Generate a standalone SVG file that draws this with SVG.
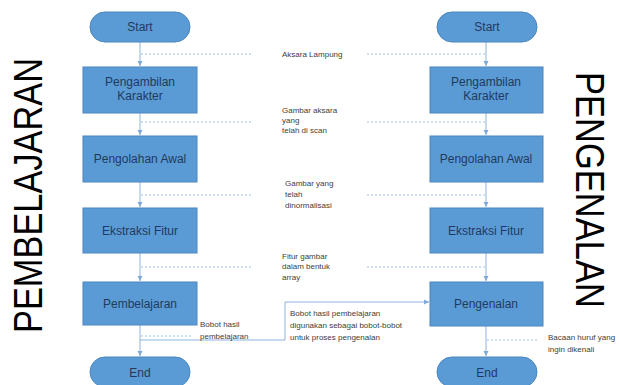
<svg xmlns="http://www.w3.org/2000/svg" width="619" height="385" viewBox="0 0 619 385">
<defs>
<marker id="ah" markerWidth="6" markerHeight="6" refX="5" refY="3" orient="auto" markerUnits="userSpaceOnUse">
<path d="M0,0.5 L5,3 L0,5.5 z" fill="#7fa9d6"/>
</marker>
<style>
.term{fill:#5b9bd5;stroke:#4a86bf;stroke-width:1}
.box{fill:#5b9bd5;stroke:#4a86bf;stroke-width:1}
.nt{font-family:"Liberation Sans",Arial,sans-serif;font-size:12px;fill:#1f3a60;text-anchor:middle}
.lb{font-family:"Liberation Sans",Arial,sans-serif;font-size:8px;fill:#404040}
.ln{stroke:#8db4de;stroke-width:1;fill:none}
.ds{stroke:#9cc0e4;stroke-width:1;stroke-dasharray:2,2;fill:none}
.big{font-family:"Liberation Sans",Arial,sans-serif;font-size:40px;fill:#000}
</style>
</defs>
<rect width="619" height="385" fill="#fff"/>

<text class="big" transform="translate(42,333) rotate(-90)" textLength="275" lengthAdjust="spacingAndGlyphs">PEMBELAJARAN</text>
<text class="big" transform="translate(576,72) rotate(90)" textLength="236" lengthAdjust="spacingAndGlyphs">PENGENALAN</text>

<g id="connectors">
<line class="ln" x1="140" y1="42" x2="140" y2="66" marker-end="url(#ah)"/>
<line class="ln" x1="140" y1="113" x2="140" y2="135" marker-end="url(#ah)"/>
<line class="ln" x1="140" y1="182" x2="140" y2="207" marker-end="url(#ah)"/>
<line class="ln" x1="140" y1="253" x2="140" y2="281" marker-end="url(#ah)"/>
<line class="ln" x1="140" y1="325" x2="140" y2="356" marker-end="url(#ah)"/>
<line class="ln" x1="486" y1="42" x2="486" y2="66" marker-end="url(#ah)"/>
<line class="ln" x1="486" y1="113" x2="486" y2="135" marker-end="url(#ah)"/>
<line class="ln" x1="486" y1="182" x2="486" y2="207" marker-end="url(#ah)"/>
<line class="ln" x1="486" y1="253" x2="486" y2="281" marker-end="url(#ah)"/>
<line class="ln" x1="486" y1="326" x2="486" y2="356" marker-end="url(#ah)"/>
<polyline class="ln" points="140,340 285,340 285,302 429,302" marker-end="url(#ah)"/>
<line class="ds" x1="141" y1="54" x2="253" y2="54"/>
<line class="ds" x1="141" y1="122" x2="253" y2="122"/>
<line class="ds" x1="141" y1="195" x2="253" y2="195"/>
<line class="ds" x1="141" y1="267" x2="253" y2="267"/>
<line class="ds" x1="141" y1="336" x2="193" y2="336"/>
<line class="ds" x1="367" y1="54" x2="485" y2="54"/>
<line class="ds" x1="367" y1="122" x2="485" y2="122"/>
<line class="ds" x1="367" y1="195" x2="485" y2="195"/>
<line class="ds" x1="367" y1="267" x2="485" y2="267"/>
<line class="ds" x1="487" y1="340" x2="538" y2="340"/>
</g>

<g id="start-l"><rect class="term" x="90" y="12" width="100" height="30" rx="15"/><text class="nt" x="140" y="31">Start</text></g>
<g id="ambil-l"><rect class="box" x="83" y="67" width="114" height="46"/><text class="nt" x="140" y="86">Pengambilan</text><text class="nt" x="140" y="100">Karakter</text></g>
<g id="olah-l"><rect class="box" x="83" y="136" width="114" height="46"/><text class="nt" x="140" y="163">Pengolahan Awal</text></g>
<g id="fitur-l"><rect class="box" x="83" y="208" width="114" height="45"/><text class="nt" x="140" y="235">Ekstraksi Fitur</text></g>
<g id="belajar"><rect class="box" x="83" y="282" width="114" height="43"/><text class="nt" x="140" y="308">Pembelajaran</text></g>
<g id="end-l"><rect class="term" x="90" y="357" width="100" height="30" rx="15"/><text class="nt" x="140" y="377">End</text></g>

<g id="start-r"><rect class="term" x="437" y="12" width="100" height="30" rx="15"/><text class="nt" x="487" y="31">Start</text></g>
<g id="ambil-r"><rect class="box" x="430" y="67" width="113" height="46"/><text class="nt" x="486" y="86">Pengambilan</text><text class="nt" x="486" y="100">Karakter</text></g>
<g id="olah-r"><rect class="box" x="430" y="136" width="113" height="46"/><text class="nt" x="486" y="163">Pengolahan Awal</text></g>
<g id="fitur-r"><rect class="box" x="430" y="208" width="113" height="45"/><text class="nt" x="486" y="235">Ekstraksi Fitur</text></g>
<g id="kenal"><rect class="box" x="430" y="282" width="113" height="44"/><text class="nt" x="486" y="308">Pengenalan</text></g>
<g id="end-r"><rect class="term" x="437" y="357" width="100" height="30" rx="15"/><text class="nt" x="487" y="377">End</text></g>

<g id="labels">
<text class="lb" x="282" y="57">Aksara Lampung</text>
<text class="lb" x="282" y="113">Gambar aksara</text>
<text class="lb" x="282" y="123">yang</text>
<text class="lb" x="282" y="133">telah di scan</text>
<text class="lb" x="285" y="186">Gambar yang</text>
<text class="lb" x="285" y="197">telah</text>
<text class="lb" x="285" y="208">dinormalisasi</text>
<text class="lb" x="282" y="259">Fitur gambar</text>
<text class="lb" x="282" y="269">dalam bentuk</text>
<text class="lb" x="282" y="280">array</text>
<text class="lb" x="200" y="327">Bobot hasil</text>
<text class="lb" x="200" y="339">pembelajaran</text>
<text class="lb" x="290" y="316">Bobot hasil pembelajaran</text>
<text class="lb" x="290" y="328">digunakan sebagai bobot-bobot</text>
<text class="lb" x="290" y="340">untuk proses pengenalan</text>
<text class="lb" x="548" y="340">Bacaan huruf yang</text>
<text class="lb" x="548" y="352">ingin dikenali</text>
</g>
</svg>
